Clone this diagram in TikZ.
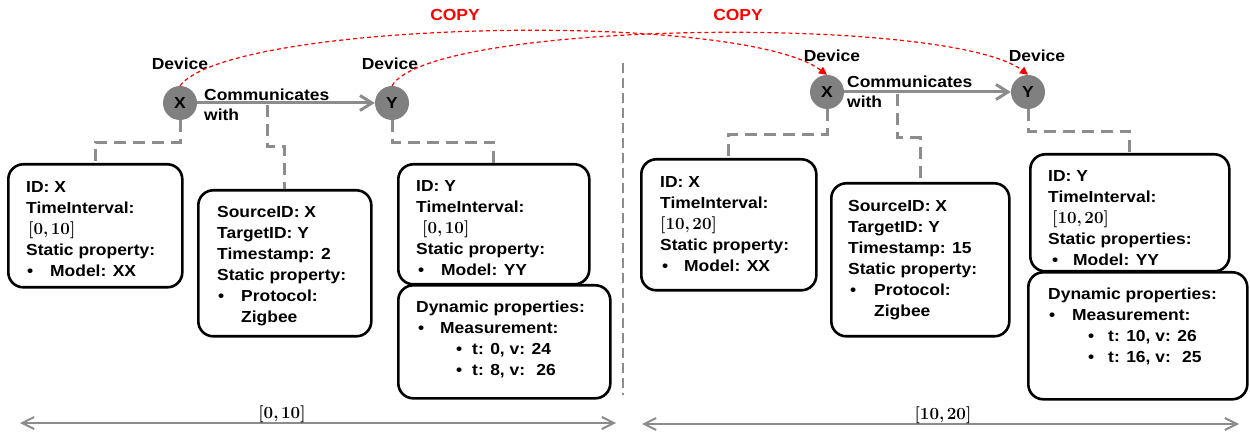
\documentclass[tikz,border=0pt]{standalone}
\usepackage[no-math]{fontspec}
\setmainfont{Liberation Sans}[FakeStretch=1.09]
\newfontfamily\ivfont{Latin Modern Roman}
\usetikzlibrary{arrows.meta}
\definecolor{lgray}{RGB}{140,140,140}
\definecolor{cfill}{RGB}{128,128,128}
\definecolor{cred}{RGB}{255,0,0}
\newcommand\itm[2]{\makebox[#1][l]{\textbullet}#2}
\newcommand\intv[2]{{\ivfont\bfseries\fontsize{17}{21}\selectfont[#1,\kern2.5pt#2]}}
\begin{document}
\begin{tikzpicture}[x=1pt,y=-1pt,
  every node/.style={font=\fontsize{16}{21}\selectfont\bfseries},
  dev/.style={circle,fill=cfill,minimum size=34pt,inner sep=0pt},
  lbl/.style={inner sep=0pt,anchor=base},
  box/.style={draw=black,fill=white,line width=2.6pt,rounded corners=15pt,inner sep=0pt,anchor=north west},
  txt/.style={inner sep=0pt,anchor=base west},
  conn/.style={draw=lgray,line width=3pt,dash pattern=on 12pt off 7pt},
  rel/.style={draw=lgray,line width=3pt,-{Straight Barb[length=12pt,width=15pt]}},
  copyarc/.style={draw=cred,line width=1.2pt,dash pattern=on 4pt off 3pt,-{Triangle[length=8pt,width=8pt]}},
  span/.style={draw=lgray,line width=2pt,{Straight Barb[length=12pt,width=12pt]}-{Straight Barb[length=12pt,width=12pt]}},
  divider/.style={draw=lgray,line width=1.6pt,dash pattern=on 10pt off 5pt},
  copylbl/.style={inner sep=0pt,text=cred},
]
\useasboundingbox (0,0) rectangle (1250,435);

% ---------- left half ----------
\node[dev] (X1) at (180,103) {X};
\node[dev] (Y1) at (392,103) {Y};
\node[lbl] (dx1) at (180,70) {Device};
\node[lbl] (dy1) at (390,70) {Device};
\draw[rel] (X1) -- (Y1);
\node[txt] (c1) at (204,101) {\parbox[t]{150pt}{\baselineskip=20pt Communicates\\with}};
\coordinate (m1) at (267,105);

\node[box,minimum width=174pt,minimum height=123pt] (b1) at (7,163) {};
\node[box,minimum width=173pt,minimum height=146pt] (b2) at (197,189) {};
\node[box,minimum width=191pt,minimum height=120pt] (b3) at (397,163) {};
\node[box,minimum width=212pt,minimum height=113pt] (b4) at (397,284) {};

\node[txt] (t1) at (26,193) {\parbox[t]{160pt}{ID: X\\TimeInterval:\\\hspace*{2pt}\intv{0}{10}\\Static property:\\\hspace*{1pt}\itm{23pt}{Model: XX}}};
\node[txt] (t2) at (217,218) {\parbox[t]{160pt}{SourceID: X\\TargetID: Y\\Timestamp: 2\\Static property:\\\hspace*{1pt}\itm{23pt}{Protocol:}\\\hspace*{24pt}Zigbee}};
\node[txt] (t3) at (416,192) {\parbox[t]{170pt}{ID: Y\\TimeInterval:\\\hspace*{6pt}\intv{0}{10}\\Static property:\\\hspace*{2pt}\itm{23pt}{Model: YY}}};
\node[txt] (t4) at (416,313) {\parbox[t]{190pt}{Dynamic properties:\\\hspace*{2pt}\itm{22pt}{Measurement:}\\\hspace*{40pt}\itm{16pt}{t: 0, v: 24}\\\hspace*{40pt}\itm{16pt}{t: 8, v: \ 26}}};

\draw[conn] (X1.south) -- ++(0,22) -| (b1.north);
\draw[conn] (m1) -- ++(0,42) -| (b2.north);
\draw[conn] (Y1.south) -- ++(0,22) -| (b3.north);

% divider
\coordinate (d0) at (623,63);
\coordinate (d1) at (623,395);
\draw[divider] (d0) -- (d1);

% ---------- right half ----------
\node[dev] (X2) at (827,92) {X};
\node[dev] (Y2) at (1028,92) {Y};
\node[lbl] (dx2) at (832,62) {Device};
\node[lbl] (dy2) at (1037,62) {Device};
\draw[rel] (X2) -- (Y2);
\node[txt] (c2) at (847,88) {\parbox[t]{150pt}{\baselineskip=20pt Communicates\\with}};
\coordinate (m2) at (897,94);

\node[box,minimum width=175pt,minimum height=131pt] (b5) at (640,158) {};
\node[box,minimum width=178pt,minimum height=153pt] (b6) at (830,182) {};
\node[box,minimum width=199pt,minimum height=117pt] (b7) at (1029,153) {};
\node[box,minimum width=219pt,minimum height=127pt] (b8) at (1027,271) {};

\node[txt] (t5) at (660,188) {\parbox[t]{160pt}{ID: X\\TimeInterval:\\\intv{10}{20}\\Static property:\\\hspace*{2pt}\itm{22pt}{Model: XX}}};
\node[txt] (t6) at (848,212) {\parbox[t]{160pt}{SourceID: X\\TargetID: Y\\Timestamp: 15\\Static property:\\\hspace*{2pt}\itm{24pt}{Protocol:}\\\hspace*{26pt}Zigbee}};
\node[txt] (t7) at (1048,182) {\parbox[t]{180pt}{ID: Y\\TimeInterval:\\\hspace*{4pt}\intv{10}{20}\\Static properties:\\\hspace*{4pt}\itm{21pt}{Model: YY}}};
\node[txt] (t8) at (1048,300) {\parbox[t]{200pt}{Dynamic properties:\\\hspace*{1pt}\itm{23pt}{Measurement:}\\\hspace*{40pt}\itm{20pt}{t: 10, v: 26}\\\hspace*{40pt}\itm{20pt}{t: 16, v: \ 25}}};

\draw[conn] (X2.south) -- ++(0,25) -| (b5.north);
\draw[conn] (m2) -- ++(0,44) -| (b6.north);
\draw[conn] (Y2.south) -- ++(0,22) -| (b7.north);

% ---------- copy arcs ----------
\draw[copyarc] (X1.north) .. controls (230,20) and (740,10) .. (X2.north);
\draw[copyarc] (Y1.north) .. controls (430,20) and (950,15) .. (Y2.north);
\node[copylbl] (cp1) at (455,15) {COPY};
\node[copylbl] (cp2) at (738,15) {COPY};

% ---------- time spans ----------
\coordinate (l0) at (20,423);
\coordinate (l1) at (616,423);
\draw[span] (l0) -- (l1);
\node[lbl] (s1) at (282,418) {\intv{0}{10}};
\coordinate (r0) at (642,424);
\coordinate (r1) at (1239,424);
\draw[span] (r0) -- (r1);
\node[lbl] (s2) at (943,419) {\intv{10}{20}};
\end{tikzpicture}
\end{document}
